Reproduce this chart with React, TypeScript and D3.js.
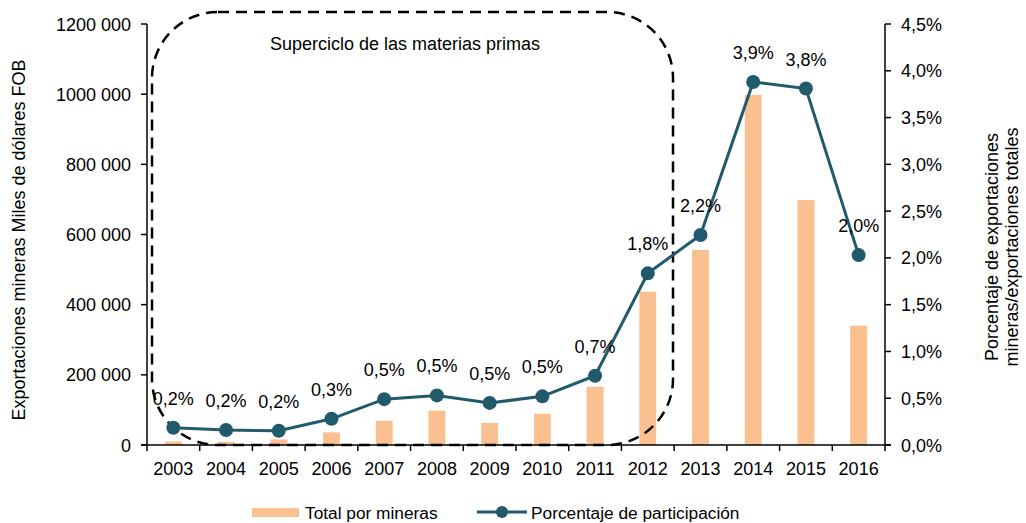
import React from "react";
import * as d3 from "d3";

const years = ["2003","2004","2005","2006","2007","2008","2009","2010","2011","2012","2013","2014","2015","2016"];
const totalMineras = [10000, 9000, 16000, 36000, 69000, 98000, 63000, 89000, 166000, 437000, 556000, 998000, 698000, 340000];
const porcentaje = [0.185, 0.16, 0.153, 0.28, 0.49, 0.53, 0.45, 0.52, 0.74, 1.835, 2.245, 3.88, 3.81, 2.03];
const pctLabels = ["0,2%","0,2%","0,2%","0,3%","0,5%","0,5%","0,5%","0,5%","0,7%","1,8%","2,2%","3,9%","3,8%","2,0%"];
const leftTicks = [0, 200000, 400000, 600000, 800000, 1000000, 1200000];
const rightTicks = [0, 0.5, 1, 1.5, 2, 2.5, 3, 3.5, 4, 4.5];

const W = 1026, H = 523;
const left = 147, right = 885, top = 24, bottom = 445;
const FONT = "'Liberation Sans', Arial, sans-serif";
const BAR = "#FAC090";
const LINE = "#215A6A";
const FS = 18;

const fmtLeft = (v: number) => {
  if (v === 0) return "0";
  const s = String(v);
  return s.slice(0, s.length - 3) + " " + s.slice(s.length - 3);
};
const fmtRight = (v: number) => v.toFixed(1).replace(".", ",") + "%";

export default function App() {
  const x = d3.scaleBand<string>().domain(years).range([left, right]).paddingInner(0).paddingOuter(0);
  const yL = d3.scaleLinear().domain([0, 1200000]).range([bottom, top]);
  const yR = d3.scaleLinear().domain([0, 4.5]).range([bottom, top]);
  const bw = x.bandwidth() * 0.32;
  const cx = (y: string) => (x(y) as number) + x.bandwidth() / 2;
  const line = d3.line<number>().x((_, i) => cx(years[i])).y((d) => yR(d));

  const boundaries = years.map((y) => x(y) as number).concat([right]);

  return (
    <svg width={W} height={H} style={{ position: "absolute", left: 0, top: 0 }} fontFamily={FONT}>
      <rect width={W} height={H} fill="#fff" />
      {/* bars */}
      {years.map((y, i) => (
        <rect key={y} x={cx(y) - bw / 2} y={yL(totalMineras[i])} width={bw} height={bottom - yL(totalMineras[i])} fill={BAR} />
      ))}
      {/* dashed rounded box */}
      <rect x={152} y={12} width={521} height={433} rx={66} ry={66} fill="none" stroke="#000" strokeWidth={2.5} strokeDasharray="11 7" />
      <text x={405} y={50} fontSize={FS} textAnchor="middle" fill="#000">Superciclo de las materias primas</text>
      {/* axes */}
      <line x1={left} x2={left} y1={top} y2={bottom} stroke="#000" strokeWidth={1.5} />
      <line x1={right} x2={right} y1={top} y2={bottom} stroke="#000" strokeWidth={1.5} />
      <line x1={left - 6} x2={right + 6} y1={bottom} y2={bottom} stroke="#000" strokeWidth={1.5} />
      {leftTicks.map((t) => (
        <g key={t}>
          <line x1={left - 6} x2={left} y1={yL(t)} y2={yL(t)} stroke="#000" strokeWidth={1.5} />
          <text x={left - 16} y={yL(t) + 6.5} fontSize={FS} textAnchor="end">{fmtLeft(t)}</text>
        </g>
      ))}
      {rightTicks.map((t) => (
        <g key={t}>
          <line x1={right} x2={right + 6} y1={yR(t)} y2={yR(t)} stroke="#000" strokeWidth={1.5} />
          <text x={right + 16} y={yR(t) + 6.5} fontSize={FS} textAnchor="start">{fmtRight(t)}</text>
        </g>
      ))}
      {boundaries.map((b, i) => (
        <line key={i} x1={b} x2={b} y1={bottom} y2={bottom + 6} stroke="#000" strokeWidth={1.5} />
      ))}
      {years.map((y) => (
        <text key={y} x={cx(y)} y={475} fontSize={FS} textAnchor="middle">{y}</text>
      ))}
      {/* line series */}
      <path d={line(porcentaje) || ""} fill="none" stroke={LINE} strokeWidth={3} />
      {porcentaje.map((p, i) => (
        <circle key={i} cx={cx(years[i])} cy={yR(p)} r={7} fill={LINE} />
      ))}
      {porcentaje.map((p, i) => (
        <text key={i} x={cx(years[i])} y={yR(p) - 23} fontSize={FS} textAnchor="middle">{pctLabels[i]}</text>
      ))}
      {/* axis titles */}
      <text transform={`translate(25, 240) rotate(-90)`} fontSize={FS} textAnchor="middle">Exportaciones mineras Miles de dólares FOB</text>
      <text transform={`translate(998, 247) rotate(-90)`} fontSize={FS} textAnchor="middle">Porcentaje de exportaciones</text>
      <text transform={`translate(1018, 247) rotate(-90)`} fontSize={FS} textAnchor="middle">mineras/exportaciones totales</text>
      {/* legend */}
      <rect x={252} y={508} width={47} height={9} fill={BAR} />
      <text x={305} y={519} fontSize={17.3}>Total por mineras</text>
      <line x1={477} x2={527} y1={512} y2={512} stroke={LINE} strokeWidth={3} />
      <circle cx={502} cy={512} r={6} fill={LINE} />
      <text x={531} y={519} fontSize={17.3}>Porcentaje de participación</text>
    </svg>
  );
}
